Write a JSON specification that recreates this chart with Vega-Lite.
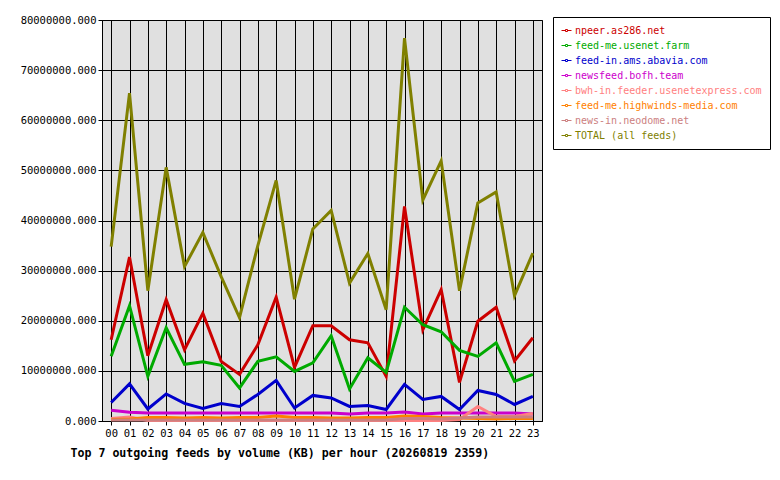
{
  "$schema": "https://vega.github.io/schema/vega-lite/v6.json",
  "autosize": {"type": "none"},
  "width": 440,
  "height": 401,
  "padding": {"left": 102, "top": 20, "right": 238, "bottom": 59},
  "background": "white",
  "config": {
    "font": "DejaVu Sans Mono",
    "view": {"fill": "#e0e0e0", "stroke": "black", "strokeWidth": 1},
    "axis": {
      "labelFont": "DejaVu Sans Mono", "labelFontSize": 10.5, "labelColor": "black",
      "tickColor": "black", "tickSize": 4, "domainColor": "black",
      "gridColor": "black", "gridOpacity": 1, "gridWidth": 1
    }
  },
  "data": {
    "values": [
      {"h":"00","f":"npeer.as286.net","v":16200000},{"h":"01","f":"npeer.as286.net","v":32700000},{"h":"02","f":"npeer.as286.net","v":13000000},{"h":"03","f":"npeer.as286.net","v":24200000},{"h":"04","f":"npeer.as286.net","v":14200000},{"h":"05","f":"npeer.as286.net","v":21500000},{"h":"06","f":"npeer.as286.net","v":11900000},{"h":"07","f":"npeer.as286.net","v":9300000},{"h":"08","f":"npeer.as286.net","v":15200000},{"h":"09","f":"npeer.as286.net","v":24700000},{"h":"10","f":"npeer.as286.net","v":10700000},{"h":"11","f":"npeer.as286.net","v":19000000},{"h":"12","f":"npeer.as286.net","v":19000000},{"h":"13","f":"npeer.as286.net","v":16200000},{"h":"14","f":"npeer.as286.net","v":15600000},{"h":"15","f":"npeer.as286.net","v":8900000},{"h":"16","f":"npeer.as286.net","v":42800000},{"h":"17","f":"npeer.as286.net","v":18200000},{"h":"18","f":"npeer.as286.net","v":26200000},{"h":"19","f":"npeer.as286.net","v":7700000},{"h":"20","f":"npeer.as286.net","v":19900000},{"h":"21","f":"npeer.as286.net","v":22700000},{"h":"22","f":"npeer.as286.net","v":12000000},{"h":"23","f":"npeer.as286.net","v":16600000},
      {"h":"00","f":"feed-me.usenet.farm","v":12900000},{"h":"01","f":"feed-me.usenet.farm","v":23000000},{"h":"02","f":"feed-me.usenet.farm","v":8900000},{"h":"03","f":"feed-me.usenet.farm","v":18600000},{"h":"04","f":"feed-me.usenet.farm","v":11300000},{"h":"05","f":"feed-me.usenet.farm","v":11800000},{"h":"06","f":"feed-me.usenet.farm","v":11100000},{"h":"07","f":"feed-me.usenet.farm","v":6600000},{"h":"08","f":"feed-me.usenet.farm","v":11900000},{"h":"09","f":"feed-me.usenet.farm","v":12800000},{"h":"10","f":"feed-me.usenet.farm","v":9900000},{"h":"11","f":"feed-me.usenet.farm","v":11600000},{"h":"12","f":"feed-me.usenet.farm","v":17000000},{"h":"13","f":"feed-me.usenet.farm","v":6400000},{"h":"14","f":"feed-me.usenet.farm","v":12600000},{"h":"15","f":"feed-me.usenet.farm","v":9700000},{"h":"16","f":"feed-me.usenet.farm","v":22700000},{"h":"17","f":"feed-me.usenet.farm","v":19200000},{"h":"18","f":"feed-me.usenet.farm","v":17800000},{"h":"19","f":"feed-me.usenet.farm","v":14100000},{"h":"20","f":"feed-me.usenet.farm","v":12900000},{"h":"21","f":"feed-me.usenet.farm","v":15600000},{"h":"22","f":"feed-me.usenet.farm","v":7900000},{"h":"23","f":"feed-me.usenet.farm","v":9300000},
      {"h":"00","f":"feed-in.ams.abavia.com","v":3700000},{"h":"01","f":"feed-in.ams.abavia.com","v":7400000},{"h":"02","f":"feed-in.ams.abavia.com","v":2400000},{"h":"03","f":"feed-in.ams.abavia.com","v":5400000},{"h":"04","f":"feed-in.ams.abavia.com","v":3500000},{"h":"05","f":"feed-in.ams.abavia.com","v":2500000},{"h":"06","f":"feed-in.ams.abavia.com","v":3500000},{"h":"07","f":"feed-in.ams.abavia.com","v":2900000},{"h":"08","f":"feed-in.ams.abavia.com","v":5300000},{"h":"09","f":"feed-in.ams.abavia.com","v":8100000},{"h":"10","f":"feed-in.ams.abavia.com","v":2600000},{"h":"11","f":"feed-in.ams.abavia.com","v":5100000},{"h":"12","f":"feed-in.ams.abavia.com","v":4600000},{"h":"13","f":"feed-in.ams.abavia.com","v":2900000},{"h":"14","f":"feed-in.ams.abavia.com","v":3100000},{"h":"15","f":"feed-in.ams.abavia.com","v":2300000},{"h":"16","f":"feed-in.ams.abavia.com","v":7300000},{"h":"17","f":"feed-in.ams.abavia.com","v":4300000},{"h":"18","f":"feed-in.ams.abavia.com","v":4900000},{"h":"19","f":"feed-in.ams.abavia.com","v":2300000},{"h":"20","f":"feed-in.ams.abavia.com","v":6100000},{"h":"21","f":"feed-in.ams.abavia.com","v":5300000},{"h":"22","f":"feed-in.ams.abavia.com","v":3300000},{"h":"23","f":"feed-in.ams.abavia.com","v":4900000},
      {"h":"00","f":"newsfeed.bofh.team","v":2150000},{"h":"01","f":"newsfeed.bofh.team","v":1750000},{"h":"02","f":"newsfeed.bofh.team","v":1600000},{"h":"03","f":"newsfeed.bofh.team","v":1600000},{"h":"04","f":"newsfeed.bofh.team","v":1600000},{"h":"05","f":"newsfeed.bofh.team","v":1600000},{"h":"06","f":"newsfeed.bofh.team","v":1600000},{"h":"07","f":"newsfeed.bofh.team","v":1600000},{"h":"08","f":"newsfeed.bofh.team","v":1600000},{"h":"09","f":"newsfeed.bofh.team","v":1600000},{"h":"10","f":"newsfeed.bofh.team","v":1600000},{"h":"11","f":"newsfeed.bofh.team","v":1600000},{"h":"12","f":"newsfeed.bofh.team","v":1600000},{"h":"13","f":"newsfeed.bofh.team","v":1400000},{"h":"14","f":"newsfeed.bofh.team","v":1600000},{"h":"15","f":"newsfeed.bofh.team","v":1600000},{"h":"16","f":"newsfeed.bofh.team","v":1800000},{"h":"17","f":"newsfeed.bofh.team","v":1400000},{"h":"18","f":"newsfeed.bofh.team","v":1600000},{"h":"19","f":"newsfeed.bofh.team","v":1600000},{"h":"20","f":"newsfeed.bofh.team","v":1600000},{"h":"21","f":"newsfeed.bofh.team","v":1600000},{"h":"22","f":"newsfeed.bofh.team","v":1600000},{"h":"23","f":"newsfeed.bofh.team","v":1400000},
      {"h":"00","f":"bwh-in.feeder.usenetexpress.com","v":500000},{"h":"01","f":"bwh-in.feeder.usenetexpress.com","v":800000},{"h":"02","f":"bwh-in.feeder.usenetexpress.com","v":100000},{"h":"03","f":"bwh-in.feeder.usenetexpress.com","v":100000},{"h":"04","f":"bwh-in.feeder.usenetexpress.com","v":100000},{"h":"05","f":"bwh-in.feeder.usenetexpress.com","v":100000},{"h":"06","f":"bwh-in.feeder.usenetexpress.com","v":100000},{"h":"07","f":"bwh-in.feeder.usenetexpress.com","v":100000},{"h":"08","f":"bwh-in.feeder.usenetexpress.com","v":100000},{"h":"09","f":"bwh-in.feeder.usenetexpress.com","v":100000},{"h":"10","f":"bwh-in.feeder.usenetexpress.com","v":100000},{"h":"11","f":"bwh-in.feeder.usenetexpress.com","v":100000},{"h":"12","f":"bwh-in.feeder.usenetexpress.com","v":100000},{"h":"13","f":"bwh-in.feeder.usenetexpress.com","v":100000},{"h":"14","f":"bwh-in.feeder.usenetexpress.com","v":100000},{"h":"15","f":"bwh-in.feeder.usenetexpress.com","v":100000},{"h":"16","f":"bwh-in.feeder.usenetexpress.com","v":100000},{"h":"17","f":"bwh-in.feeder.usenetexpress.com","v":100000},{"h":"18","f":"bwh-in.feeder.usenetexpress.com","v":100000},{"h":"19","f":"bwh-in.feeder.usenetexpress.com","v":300000},{"h":"20","f":"bwh-in.feeder.usenetexpress.com","v":2900000},{"h":"21","f":"bwh-in.feeder.usenetexpress.com","v":900000},{"h":"22","f":"bwh-in.feeder.usenetexpress.com","v":900000},{"h":"23","f":"bwh-in.feeder.usenetexpress.com","v":1500000},
      {"h":"00","f":"feed-me.highwinds-media.com","v":300000},{"h":"01","f":"feed-me.highwinds-media.com","v":400000},{"h":"02","f":"feed-me.highwinds-media.com","v":700000},{"h":"03","f":"feed-me.highwinds-media.com","v":700000},{"h":"04","f":"feed-me.highwinds-media.com","v":600000},{"h":"05","f":"feed-me.highwinds-media.com","v":700000},{"h":"06","f":"feed-me.highwinds-media.com","v":600000},{"h":"07","f":"feed-me.highwinds-media.com","v":700000},{"h":"08","f":"feed-me.highwinds-media.com","v":700000},{"h":"09","f":"feed-me.highwinds-media.com","v":1000000},{"h":"10","f":"feed-me.highwinds-media.com","v":700000},{"h":"11","f":"feed-me.highwinds-media.com","v":700000},{"h":"12","f":"feed-me.highwinds-media.com","v":600000},{"h":"13","f":"feed-me.highwinds-media.com","v":600000},{"h":"14","f":"feed-me.highwinds-media.com","v":700000},{"h":"15","f":"feed-me.highwinds-media.com","v":700000},{"h":"16","f":"feed-me.highwinds-media.com","v":1000000},{"h":"17","f":"feed-me.highwinds-media.com","v":900000},{"h":"18","f":"feed-me.highwinds-media.com","v":700000},{"h":"19","f":"feed-me.highwinds-media.com","v":600000},{"h":"20","f":"feed-me.highwinds-media.com","v":500000},{"h":"21","f":"feed-me.highwinds-media.com","v":400000},{"h":"22","f":"feed-me.highwinds-media.com","v":500000},{"h":"23","f":"feed-me.highwinds-media.com","v":500000},
      {"h":"00","f":"news-in.neodome.net","v":200000},{"h":"01","f":"news-in.neodome.net","v":200000},{"h":"02","f":"news-in.neodome.net","v":200000},{"h":"03","f":"news-in.neodome.net","v":200000},{"h":"04","f":"news-in.neodome.net","v":200000},{"h":"05","f":"news-in.neodome.net","v":200000},{"h":"06","f":"news-in.neodome.net","v":200000},{"h":"07","f":"news-in.neodome.net","v":200000},{"h":"08","f":"news-in.neodome.net","v":200000},{"h":"09","f":"news-in.neodome.net","v":200000},{"h":"10","f":"news-in.neodome.net","v":200000},{"h":"11","f":"news-in.neodome.net","v":200000},{"h":"12","f":"news-in.neodome.net","v":200000},{"h":"13","f":"news-in.neodome.net","v":200000},{"h":"14","f":"news-in.neodome.net","v":200000},{"h":"15","f":"news-in.neodome.net","v":200000},{"h":"16","f":"news-in.neodome.net","v":500000},{"h":"17","f":"news-in.neodome.net","v":500000},{"h":"18","f":"news-in.neodome.net","v":400000},{"h":"19","f":"news-in.neodome.net","v":600000},{"h":"20","f":"news-in.neodome.net","v":800000},{"h":"21","f":"news-in.neodome.net","v":800000},{"h":"22","f":"news-in.neodome.net","v":800000},{"h":"23","f":"news-in.neodome.net","v":800000},
      {"h":"00","f":"TOTAL (all feeds)","v":34800000},{"h":"01","f":"TOTAL (all feeds)","v":65400000},{"h":"02","f":"TOTAL (all feeds)","v":26000000},{"h":"03","f":"TOTAL (all feeds)","v":50600000},{"h":"04","f":"TOTAL (all feeds)","v":30800000},{"h":"05","f":"TOTAL (all feeds)","v":37600000},{"h":"06","f":"TOTAL (all feeds)","v":28800000},{"h":"07","f":"TOTAL (all feeds)","v":20600000},{"h":"08","f":"TOTAL (all feeds)","v":35000000},{"h":"09","f":"TOTAL (all feeds)","v":48000000},{"h":"10","f":"TOTAL (all feeds)","v":24300000},{"h":"11","f":"TOTAL (all feeds)","v":38300000},{"h":"12","f":"TOTAL (all feeds)","v":42000000},{"h":"13","f":"TOTAL (all feeds)","v":27500000},{"h":"14","f":"TOTAL (all feeds)","v":33400000},{"h":"15","f":"TOTAL (all feeds)","v":22200000},{"h":"16","f":"TOTAL (all feeds)","v":76400000},{"h":"17","f":"TOTAL (all feeds)","v":44100000},{"h":"18","f":"TOTAL (all feeds)","v":51900000},{"h":"19","f":"TOTAL (all feeds)","v":26000000},{"h":"20","f":"TOTAL (all feeds)","v":43500000},{"h":"21","f":"TOTAL (all feeds)","v":45700000},{"h":"22","f":"TOTAL (all feeds)","v":25000000},{"h":"23","f":"TOTAL (all feeds)","v":33500000}
    ]
  },
  "mark": {"type": "line", "strokeWidth": 3},
  "encoding": {
    "x": {
      "field": "h", "type": "ordinal",
      "scale": {"type": "point", "padding": 0.5},
      "axis": {
        "grid": true, "labelAngle": 0, "labelPadding": 3,
        "title": "Top 7 outgoing feeds by volume (KB) per hour (20260819 2359)",
        "titleFont": "DejaVu Sans Mono", "titleFontSize": 11.6, "titleFontWeight": "bold",
        "titleColor": "black", "titleAlign": "left", "titleBaseline": "alphabetic",
        "titleX": -32, "titleY": 35
      }
    },
    "y": {
      "field": "v", "type": "quantitative",
      "scale": {"domain": [0, 80000000], "nice": false},
      "axis": {"values": [0,10000000,20000000,30000000,40000000,50000000,60000000,70000000,80000000], "format": ".3f", "grid": true, "title": null, "labelPadding": 2}
    },
    "color": {
      "field": "f", "type": "nominal",
      "scale": {
        "domain": ["npeer.as286.net","feed-me.usenet.farm","feed-in.ams.abavia.com","newsfeed.bofh.team","bwh-in.feeder.usenetexpress.com","feed-me.highwinds-media.com","news-in.neodome.net","TOTAL (all feeds)"],
        "range": ["#cc0000","#00aa00","#0000cc","#cc00cc","#ff8080","#ff8000","#cc8080","#808000"]
      },
      "legend": {
        "title": null, "orient": "none", "legendX": 451, "legendY": -3,
        "strokeColor": "black", "fillColor": "white", "padding": 8,
        "symbolType": "M-1,0H-0.2M0.2,0H1M-0.2,-0.2H0.2V0.2H-0.2Z",
        "symbolSize": 100, "symbolStrokeWidth": 1,
        "labelFont": "DejaVu Sans Mono", "labelFontSize": 10, "labelOffset": 3,
        "labelLimit": 400, "rowPadding": 4,
        "labelExpr": "datum.label + '    '",
        "encode": {"labels": {"update": {"fill": {"scale": "color", "field": "value"}}}}
      }
    }
  }
}
